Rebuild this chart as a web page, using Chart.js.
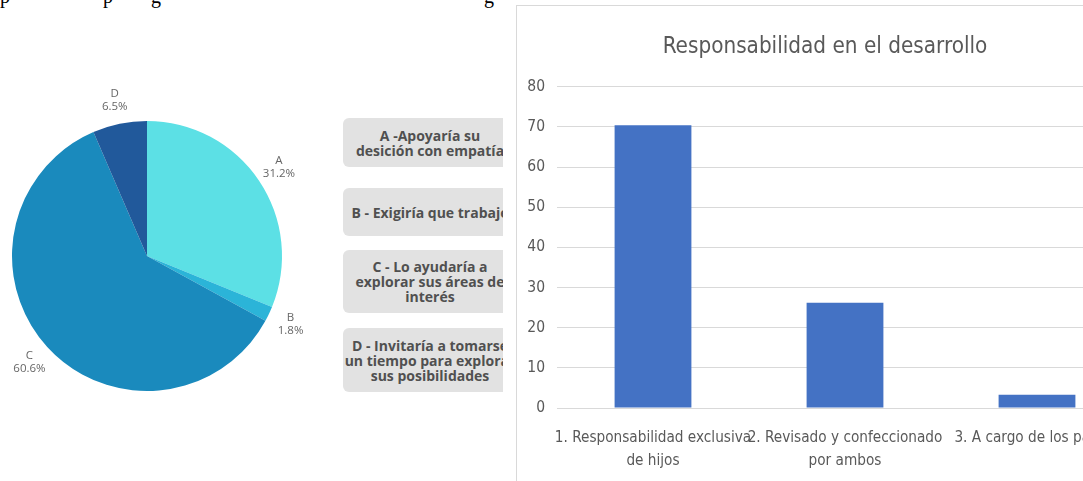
<!DOCTYPE html>
<html>
<head>
<meta charset="utf-8">
<script src="https://cdn.jsdelivr.net/npm/chart.js@4.4.1/dist/chart.umd.min.js"></script>
<style>
  html, body { margin: 0; padding: 0; background: #fff; }
  body { width: 1083px; height: 481px; position: relative; overflow: hidden; }
  #topline span { position: absolute; top: -15px; font: 20px "Liberation Serif", serif; color: #000; }
  #pieBox { position: absolute; left: 0; top: 60px; width: 330px; height: 340px; }
  #btns { position: absolute; left: 343px; top: 0; width: 160px; height: 481px; overflow: hidden; }
  .btn { position: absolute; left: 0; width: 174px; background: #e2e2e2; border-radius: 6px;
         display: flex; align-items: center; justify-content: center; text-align: center;
         font: bold 14px "Open Sans", sans-serif; line-height: 15px; color: #505050; white-space: nowrap; }
  #barPanel { position: absolute; left: 516px; top: 5px; width: 700px; height: 480px;
              border-left: 1px solid #d9d9d9; border-top: 1px solid #d9d9d9; }
  #barBox { position: absolute; left: 0; top: 0; width: 640px; height: 475px; }
</style>
</head>
<body>
<div id="topline">
  <span style="left:0px">p</span><span style="left:103px">p</span><span style="left:151px">g</span><span style="left:484px">g</span>
</div>

<div id="pieBox"><canvas id="pieChart"></canvas></div>

<div id="btns">
  <div class="btn" style="top:118px;height:49px">A -Apoyaría su<br>desición con empatía</div>
  <div class="btn" style="top:188px;height:48px">B - Exigiría que trabaje</div>
  <div class="btn" style="top:250px;height:63px">C - Lo ayudaría a<br>explorar sus áreas de<br>interés</div>
  <div class="btn" style="top:328px;height:64px">D - Invitaría a tomarse<br>un tiempo para explorar<br>sus posibilidades</div>
</div>

<div id="barPanel"><div id="barBox"><canvas id="barChart"></canvas></div></div>

<script>
// pie data
const pieLabels = ["A", "B", "C", "D"];
const pieValues = [31.2, 1.8, 60.6, 6.5];
const pieColors = ["#5ce0e5", "#2bb4d8", "#1a8abd", "#21599b"];

// bar data
const barLabels = [
  ["1. Responsabilidad exclusiva", "de hijos"],
  ["2. Revisado y confeccionado", "por ambos"],
  ["3. A cargo de los padres"]
];
const barValues = [70.4, 26.2, 3.3];
const yTicks = [0, 10, 20, 30, 40, 50, 60, 70, 80];

const pieLabelPlugin = {
  id: "pieLabels",
  afterDatasetsDraw(chart) {
    const c = chart.ctx;
    const meta = chart.getDatasetMeta(0);
    c.save();
    c.font = "11.5px 'Open Sans', sans-serif";
    c.fillStyle = "#666";
    c.textAlign = "center";
    c.textBaseline = "middle";
    meta.data.forEach(function (arc, i) {
      const mid = (arc.startAngle + arc.endAngle) / 2;
      const r = arc.outerRadius + 24;
      const x = arc.x + Math.cos(mid) * r;
      const y = arc.y + Math.sin(mid) * r;
      c.fillText(pieLabels[i], x, y - 7);
      c.fillText(pieValues[i].toFixed(1) + "%", x, y + 6);
    });
    c.restore();
  }
};

new Chart(document.getElementById("pieChart"), {
  type: "pie",
  data: {
    labels: pieLabels,
    datasets: [{ data: pieValues, backgroundColor: pieColors, borderWidth: 0 }]
  },
  options: {
    responsive: true,
    maintainAspectRatio: false,
    animation: false,
    layout: { padding: { left: 12, right: 48, top: 61, bottom: 9 } },
    plugins: { legend: { display: false }, tooltip: { enabled: false } }
  },
  plugins: [pieLabelPlugin]
});

const font = "'DejaVu Sans Condensed', sans-serif";

new Chart(document.getElementById("barChart"), {
  type: "bar",
  data: {
    labels: barLabels,
    datasets: [{
      data: barValues,
      backgroundColor: "#4472c4",
      barPercentage: 0.4,
      categoryPercentage: 1
    }]
  },
  options: {
    responsive: true,
    maintainAspectRatio: false,
    animation: false,
    layout: { padding: { left: 0, right: 24, top: 0, bottom: 0 } },
    plugins: {
      legend: { display: false },
      tooltip: { enabled: false },
      title: {
        display: true,
        text: "Responsabilidad en el desarrollo",
        color: "#595959",
        font: { family: font, size: 22.3, weight: "normal" },
        padding: { top: 28, bottom: 26 }
      }
    },
    scales: {
      x: {
        grid: { display: false, drawTicks: false },
        border: { color: "#d9d9d9" },
        ticks: {
          color: "#595959",
          font: { family: font, size: 15.2, lineHeight: 1.5 },
          padding: 19,
          maxRotation: 0,
          autoSkip: false
        },
        afterFit(axis) { axis.height = 73; }
      },
      y: {
        min: 0,
        max: 80,
        afterBuildTicks(axis) { axis.ticks = yTicks.map(v => ({ value: v })); },
        grid: { color: "#d9d9d9", drawTicks: false },
        border: { display: false },
        ticks: {
          color: "#595959",
          font: { family: font, size: 15.5 },
          padding: 12
        },
        afterFit(axis) { axis.width = 40; }
      }
    }
  }
});
</script>
</body>
</html>
